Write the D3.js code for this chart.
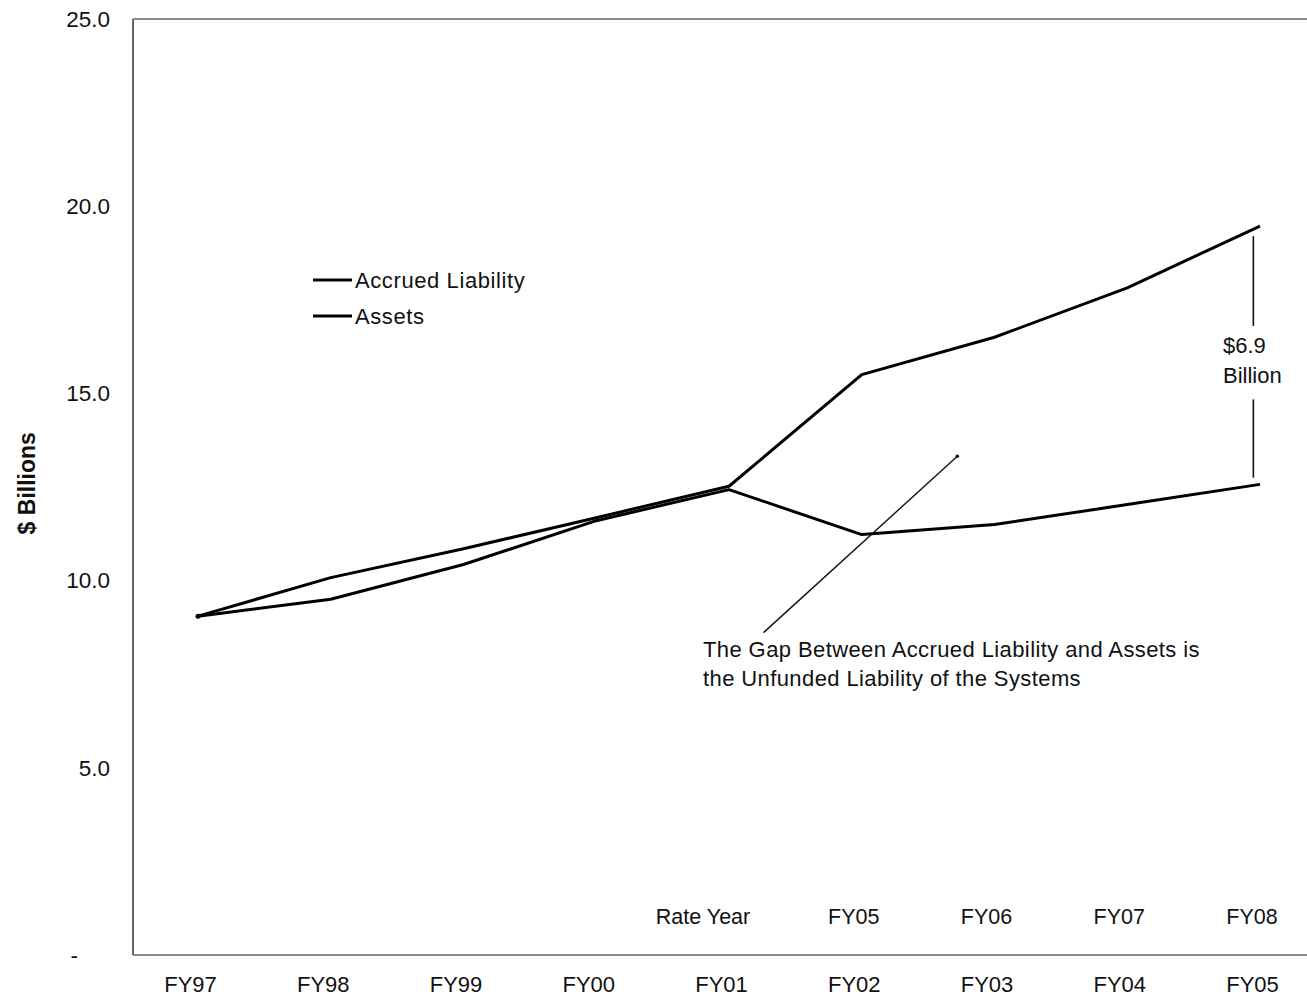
<!DOCTYPE html>
<html>
<head>
<meta charset="utf-8">
<script src="https://cdn.jsdelivr.net/npm/d3@7"></script>
<style>
  html, body { margin: 0; padding: 0; background: #fff; }
  svg { display: block; font-family: "Liberation Sans", Arial, sans-serif; }
</style>
</head>
<body>
<svg id="chart" width="1307" height="1002"></svg>
<script>
// ---- data ----
const categories = ["FY97", "FY98", "FY99", "FY00", "FY01", "FY02", "FY03", "FY04", "FY05"];
const rateYearLabels = ["", "", "", "", "Rate Year", "FY05", "FY06", "FY07", "FY08"];
const accruedLiability = [9.05, 10.08, 10.85, 11.68, 12.52, 15.5, 16.5, 17.82, 19.47];
const assets = [9.05, 9.5, 10.43, 11.6, 12.43, 11.23, 11.5, 12.03, 12.57];
const yTicks = [0, 5, 10, 15, 20, 25];
const seriesNames = ["Accrued Liability", "Assets"];
const gapLabel = ["$6.9", "Billion"];
const noteLines = ["The Gap Between Accrued Liability and Assets is", "the Unfunded Liability of the Systems"];

// ---- layout ----
const svg = d3.select("#chart");
const plotLeft = 133, plotRight = 1307, plotTop = 19, plotBottom = 955;

const x = d3.scalePoint().domain(categories).range([198, 1260]);
const step = x.step();
const xi = i => x(categories[0]) + i * step;   // fractional index position
const y = d3.scaleLinear().domain([0, 25]).range([plotBottom, plotTop]);

// frame: top line, left axis, bottom axis
svg.append("line").attr("x1", plotLeft).attr("x2", plotRight).attr("y1", plotTop).attr("y2", plotTop)
  .attr("stroke", "#666").attr("stroke-width", 1.5);
svg.append("line").attr("x1", plotLeft).attr("x2", plotLeft).attr("y1", plotTop).attr("y2", plotBottom)
  .attr("stroke", "#555").attr("stroke-width", 1.8);
svg.append("line").attr("x1", plotLeft).attr("x2", plotRight).attr("y1", plotBottom).attr("y2", plotBottom)
  .attr("stroke", "#666").attr("stroke-width", 1.5);

// y axis labels
const yAxis = d3.axisLeft(y).tickValues(yTicks).tickSize(0).tickPadding(0)
  .tickFormat(d => d === 0 ? "-" : d3.format(".1f")(d));
const gy = svg.append("g").attr("transform", `translate(110,0)`).call(yAxis);
gy.select(".domain").remove();
gy.selectAll("text").attr("font-size", 22.5).attr("fill", "#111")
  .attr("font-family", "Liberation Sans, Arial, sans-serif");
gy.selectAll(".tick").filter(d => d === 0).select("text").attr("dx", -32);

// x axis labels (bottom row)
const xAxis = d3.axisBottom(x).tickSize(0).tickPadding(0);
const gx = svg.append("g").attr("transform", `translate(-8,${plotBottom + 21})`).call(xAxis);
gx.select(".domain").remove();
gx.selectAll("text").attr("font-size", 22).attr("fill", "#111")
  .attr("font-family", "Liberation Sans, Arial, sans-serif");

// secondary (rate year) labels inside plot
svg.append("g").selectAll("text").data(categories).join("text")
  .attr("x", d => x(d) - 8)
  .attr("dx", (d, i) => rateYearLabels[i] === "Rate Year" ? -18 : 0)
  .attr("y", plotBottom - 31)
  .attr("text-anchor", "middle")
  .attr("font-size", 21.5)
  .attr("fill", "#111")
  .text((d, i) => rateYearLabels[i]);

// y axis title
svg.append("text")
  .attr("transform", `translate(35,${y(12.6)}) rotate(-90)`)
  .attr("text-anchor", "middle")
  .attr("font-size", 23)
  .attr("font-weight", "bold")
  .attr("fill", "#111")
  .text("$ Billions");

// lines
const line = d3.line().x((d, i) => x(categories[i])).y(d => y(d));
svg.append("path").datum(assets).attr("d", line)
  .attr("fill", "none").attr("stroke", "#000").attr("stroke-width", 3).attr("stroke-linejoin", "round");
svg.append("path").datum(accruedLiability).attr("d", line)
  .attr("fill", "none").attr("stroke", "#000").attr("stroke-width", 3).attr("stroke-linejoin", "round");
svg.append("circle").attr("cx", x(categories[0])).attr("cy", y(accruedLiability[0])).attr("r", 2.5).attr("fill", "#000");

// legend
const legend = svg.append("g").attr("transform", "translate(313,280)");
seriesNames.forEach((name, i) => {
  const g = legend.append("g").attr("transform", `translate(0,${i * 36})`);
  g.append("line").attr("x1", 0).attr("x2", 39).attr("y1", 0).attr("y2", 0)
    .attr("stroke", "#000").attr("stroke-width", 3);
  g.append("text").attr("x", 42).attr("y", 0).attr("dy", "0.35em")
    .attr("font-size", 22).attr("letter-spacing", "0.6").attr("fill", "#111").text(name);
});

// annotation pointer line
svg.append("line")
  .attr("x1", xi(5.72)).attr("y1", y(13.32))
  .attr("x2", xi(4.26)).attr("y2", y(8.61))
  .attr("stroke", "#111").attr("stroke-width", 1.4);
svg.append("circle").attr("cx", xi(5.72)).attr("cy", y(13.32)).attr("r", 1.8).attr("fill", "#111");

// annotation text
const note = svg.append("text").attr("x", 703).attr("y", 657)
  .attr("font-size", 22).attr("fill", "#111").attr("letter-spacing", "0.4");
noteLines.forEach((t, i) => note.append("tspan").attr("x", 703).attr("dy", i === 0 ? 0 : 29).text(t));

// gap bracket
const gx2 = xi(7.95);
svg.append("line").attr("x1", gx2).attr("x2", gx2).attr("y1", y(19.2)).attr("y2", y(16.8))
  .attr("stroke", "#111").attr("stroke-width", 1.6);
svg.append("line").attr("x1", gx2).attr("x2", gx2).attr("y1", y(14.84)).attr("y2", y(12.75))
  .attr("stroke", "#111").attr("stroke-width", 1.6);
const gapText = svg.append("text").attr("font-size", 22).attr("fill", "#111");
gapLabel.forEach((t, i) => gapText.append("tspan").attr("x", 1223).attr("y", 353 + i * 30).text(t));
</script>
</body>
</html>
